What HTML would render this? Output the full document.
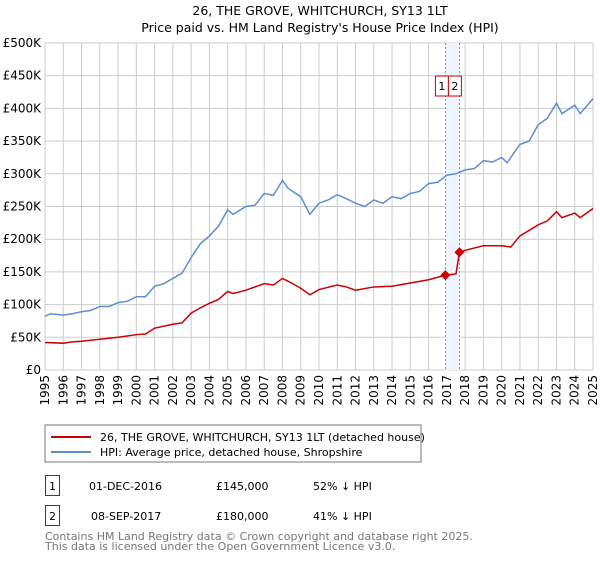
<!DOCTYPE html>
<html><head><meta charset="utf-8"><style>
body{margin:0;background:#fff;font-family:"Liberation Sans","DejaVu Sans",sans-serif;}
svg text{font-family:"DejaVu Sans","Liberation Sans",sans-serif;}
</style></head><body>
<svg width="600" height="560" viewBox="0 0 600 560">
<text x="320" y="15" text-anchor="middle" font-size="12.5">26, THE GROVE, WHITCHURCH, SY13 1LT</text>
<text x="320" y="32" text-anchor="middle" font-size="12.5">Price paid vs. HM Land Registry's House Price Index (HPI)</text>
<g id="grid"></g><g id="plot"></g><g id="axes"></g>
<rect x="45" y="425" width="376" height="37" fill="#fff" stroke="#777"/>
<line x1="51" y1="437" x2="91" y2="437" stroke="#cc0000" stroke-width="2"/>
<text x="100" y="441" font-size="11">26, THE GROVE, WHITCHURCH, SY13 1LT (detached house)</text>
<line x1="51" y1="452" x2="91" y2="452" stroke="#5b8fd4" stroke-width="2"/>
<text x="100" y="456" font-size="11">HPI: Average price, detached house, Shropshire</text>
<rect x="45.5" y="475.5" width="14" height="20" fill="none" stroke="#cc0000"/>
<text x="52.5" y="490" font-size="11" text-anchor="middle">1</text>
<text x="89" y="490" font-size="11">01-DEC-2016</text>
<text x="216" y="490" font-size="11">£145,000</text>
<text x="313" y="490" font-size="11">52% ↓ HPI</text>
<rect x="45.5" y="505.5" width="14" height="20" fill="none" stroke="#cc0000"/>
<text x="52.5" y="520" font-size="11" text-anchor="middle">2</text>
<text x="91" y="520" font-size="11">08-SEP-2017</text>
<text x="216" y="520" font-size="11">£180,000</text>
<text x="313" y="520" font-size="11">41% ↓ HPI</text>
<text x="45" y="540" font-size="11" fill="#777">Contains HM Land Registry data © Crown copyright and database right 2025.</text>
<text x="45" y="550" font-size="11" fill="#777">This data is licensed under the Open Government Licence v3.0.</text>
</svg>
<script>
const yTicks=[0,50,100,150,200,250,300,350,400,450,500];
const yTickLabels=["£0","£50K","£100K","£150K","£200K","£250K","£300K","£350K","£400K","£450K","£500K"];
const years=[1995,1996,1997,1998,1999,2000,2001,2002,2003,2004,2005,2006,2007,2008,2009,2010,2011,2012,2013,2014,2015,2016,2017,2018,2019,2020,2021,2022,2023,2024,2025];
const hpiX=[1995,1995.3,1996,1996.5,1997,1997.5,1998,1998.5,1999,1999.5,2000,2000.5,2001,2001.5,2002,2002.5,2003,2003.5,2004,2004.5,2005,2005.3,2006,2006.5,2007,2007.5,2008,2008.3,2009,2009.5,2010,2010.5,2011,2011.5,2012,2012.5,2013,2013.5,2014,2014.5,2015,2015.5,2016,2016.5,2017,2017.5,2018,2018.5,2019,2019.5,2020,2020.3,2021,2021.5,2022,2022.5,2023,2023.3,2024,2024.3,2025];
const hpiY=[82,86,84,86,89,91,97,97,103,105,112,112,128,132,140,148,172,193,205,220,245,238,250,252,270,267,290,278,265,238,255,260,268,262,255,250,260,255,265,262,270,273,285,287,298,300,306,308,320,318,325,317,345,350,375,385,408,392,405,392,415];
const ppX=[1995,1996,1996.5,1997,1998,1999,2000,2000.5,2001,2002,2002.5,2003,2003.5,2004,2004.5,2005,2005.3,2006,2007,2007.5,2008,2008.5,2009,2009.5,2010,2011,2011.5,2012,2013,2014,2015,2016,2016.92,2017.5,2017.69,2018,2019,2020,2020.5,2021,2022,2022.5,2023,2023.3,2024,2024.3,2025];
const ppY=[42,41,43,44,47,50,54,55,64,70,72,87,95,102,108,120,117,122,132,130,140,133,125,115,123,130,127,122,127,128,133,138,145,147,180,183,190,190,188,205,222,228,242,233,240,233,247];
const saleX=[2016.92,2017.69];
const saleY=[145,180];
const saleLabels=["1","2"];
const NS="http://www.w3.org/2000/svg";
const X0=45,X1=593,Y0=370,Y1=43;
const sx=v=>X0+(v-1995)/(2025-1995)*(X1-X0);
const sy=v=>Y0-v/500*(Y0-Y1);
function mk(t,a,p){const e=document.createElementNS(NS,t);for(const k in a)e.setAttribute(k,a[k]);p.appendChild(e);return e;}
const grid=document.getElementById('grid'),plot=document.getElementById('plot'),axes=document.getElementById('axes');
yTicks.forEach((v,i)=>{
 const l=mk('line',{x1:X0,x2:X1,y1:sy(v),y2:sy(v),stroke:'#ccc'},grid);
 
 
 const t=mk('text',{x:X0-4,y:sy(v)+4,'text-anchor':'end','font-size':'12'},axes);
 t.textContent=yTickLabels[i];
 
 
});
years.forEach(y=>{
 const l=mk('line',{x1:sx(y),x2:sx(y),y1:Y1,y2:Y0,stroke:'#ccc'},grid);
 
 
 const t=mk('text',{x:0,y:0,'text-anchor':'end','font-size':'12',transform:`translate(${sx(y)+4},${Y0+5}) rotate(-90)`},axes);
 t.textContent=y;
 
 
});
const band=mk('rect',{x:sx(saleX[0]),y:Y1,width:sx(saleX[1])-sx(saleX[0]),height:Y0-Y1,fill:'#eef3fc'},plot);


const boxStart=sx(saleX[0])-10;
saleX.forEach((x,i)=>{
 const l=mk('line',{x1:sx(x),x2:sx(x),y1:Y1,y2:Y0,stroke:'#e44','stroke-width':'0.8','stroke-dasharray':'2,2'},plot);
 
 
 const bx=boxStart+i*13;
 const r=mk('rect',{x:bx,y:76,width:13,height:20,fill:'#fff',stroke:'#cc0000'},plot);
 
 
 const t=mk('text',{x:bx+6.5,y:90,'text-anchor':'middle','font-size':'11'},plot);
 t.textContent=saleLabels[i];
 
 
});
const hp=mk('polyline',{points:hpiX.map((x,i)=>sx(x)+','+sy(hpiY[i])).join(' '),fill:'none',stroke:'#5b8fd4','stroke-width':'1.5'},plot);


const pp=mk('polyline',{points:ppX.map((x,i)=>sx(x)+','+sy(ppY[i])).join(' '),fill:'none',stroke:'#cc0000','stroke-width':'1.5'},plot);


saleX.forEach((x,i)=>{
 const cx=sx(x),cy=sy(saleY[i]);
 const d=mk('polygon',{points:`${cx},${cy-5} ${cx+5},${cy} ${cx},${cy+5} ${cx-5},${cy}`,fill:'#cc0000'},plot);
 
 
});
</script>
</body></html>
